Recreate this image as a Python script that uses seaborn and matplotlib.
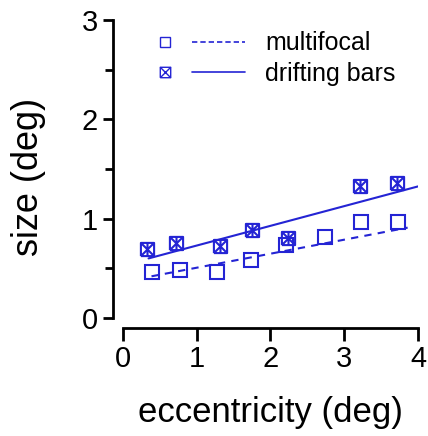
import numpy as np
import pandas as pd
import matplotlib
matplotlib.use("Agg")
import matplotlib.pyplot as plt
from matplotlib.path import Path
from matplotlib.lines import Line2D
from matplotlib.legend_handler import HandlerTuple
from matplotlib.ticker import MultipleLocator
import seaborn as sns

# multifocal mapping (open squares)
mf_ecc = [0.40, 0.78, 1.28, 1.74, 2.21, 2.74, 3.23, 3.73]
mf_size = [0.46, 0.48, 0.46, 0.58, 0.735, 0.82, 0.97, 0.97]
# drifting bars (crossed squares)
db_ecc = [0.33, 0.72, 1.32, 1.75, 2.24, 3.21, 3.72]
db_size = [0.69, 0.76, 0.73, 0.89, 0.81, 1.33, 1.36]
# fitted lines, end points
mf_fit_ecc = [0.39, 3.86]
mf_fit_size = [0.42, 0.91]
db_fit_ecc = [0.35, 4.00]
db_fit_size = [0.60, 1.325]

labels = ["multifocal", "drifting bars"]
blue = "#2424d4"

sns.set_theme(style="ticks")
plt.rcParams["font.family"] = ["Liberation Sans", "DejaVu Sans"]

# square with a cross (and a vertical bar for the data points)
box = [(-1, -1), (1, -1), (1, 1), (-1, 1), (-1, -1)]
cross = [(-1, -1), (1, 1), (-1, 1), (1, -1)]
xbox_v = box + cross + [(0, 1), (0, -1)]
xbox_c = [Path.MOVETO] + [Path.LINETO] * 4 + [Path.MOVETO, Path.LINETO, Path.MOVETO, Path.LINETO, Path.MOVETO, Path.LINETO]
xbox = Path(xbox_v, xbox_c)
xbox_leg = Path(box + cross, xbox_c[:9])

fig, ax = plt.subplots(figsize=(4.28, 4.36), dpi=100)
fig.subplots_adjust(left=0.2867, right=0.9766, bottom=0.2706, top=0.954)

# fit lines
sns.lineplot(x=mf_fit_ecc, y=mf_fit_size, ax=ax, color=blue, linewidth=1.5,
             linestyle=(0, (3.5, 3)))
sns.lineplot(x=db_fit_ecc, y=db_fit_size, ax=ax, color=blue, linewidth=1.5)

# data points
sns.lineplot(x=mf_ecc, y=mf_size, ax=ax, linestyle="none", marker="s",
             markersize=9.5, markerfacecolor="none", markeredgecolor=blue,
             markeredgewidth=1.5, color=blue)
sns.lineplot(x=db_ecc, y=db_size, ax=ax, linestyle="none", marker=xbox,
             markersize=9.5, markerfacecolor="none", markeredgecolor=blue,
             markeredgewidth=1.5, color=blue)

ax.set_xlim(0, 4)
ax.set_ylim(0, 3)
ax.set_xticks([0, 1, 2, 3, 4])
ax.set_yticks([0, 1, 2, 3])
ax.yaxis.set_minor_locator(MultipleLocator(0.5))

ax.tick_params(axis="both", which="major", labelsize=21, width=2, color="black",
               labelcolor="black", direction="out")
ax.tick_params(axis="y", which="major", length=7, pad=4)
ax.tick_params(axis="y", which="minor", length=5.5, width=2, color="black")
ax.tick_params(axis="x", which="major", length=9.5, pad=3)
for s in ax.spines.values():
    s.set_linewidth(2)
    s.set_color("black")
sns.despine(ax=ax, offset=7, trim=True)

ax.set_xlabel("eccentricity (deg)", fontsize=25, color="black")
ax.set_ylabel("size (deg)", fontsize=26, color="black")
ax.xaxis.set_label_coords(0.5, -0.262)
ax.yaxis.set_label_coords(-0.26, 0.473)

# legend: marker, then line, then text
mk1 = Line2D([], [], linestyle="none", marker="s", markersize=7.5,
             markerfacecolor="none", markeredgecolor=blue, markeredgewidth=1)
ln1 = Line2D([], [], color=blue, linewidth=1.2, linestyle=(0, (3.2, 1.8)))
mk2 = Line2D([], [], linestyle="none", marker=xbox_leg, markersize=7.5,
             markerfacecolor="none", markeredgecolor=blue, markeredgewidth=1)
ln2 = Line2D([], [], color=blue, linewidth=1.2)
fig.legend([(mk1, ln1), (mk2, ln2)], labels,
           handler_map={tuple: HandlerTuple(ndivide=None, pad=0)},
           loc="upper left", bbox_to_anchor=(138.5 / 428, 1 - 31.5 / 436),
           frameon=False, fontsize=18, handlelength=4.26, handletextpad=0.8,
           borderpad=0, borderaxespad=0, labelspacing=0.25, labelcolor="black")

fig.savefig("out.png", dpi=100)
